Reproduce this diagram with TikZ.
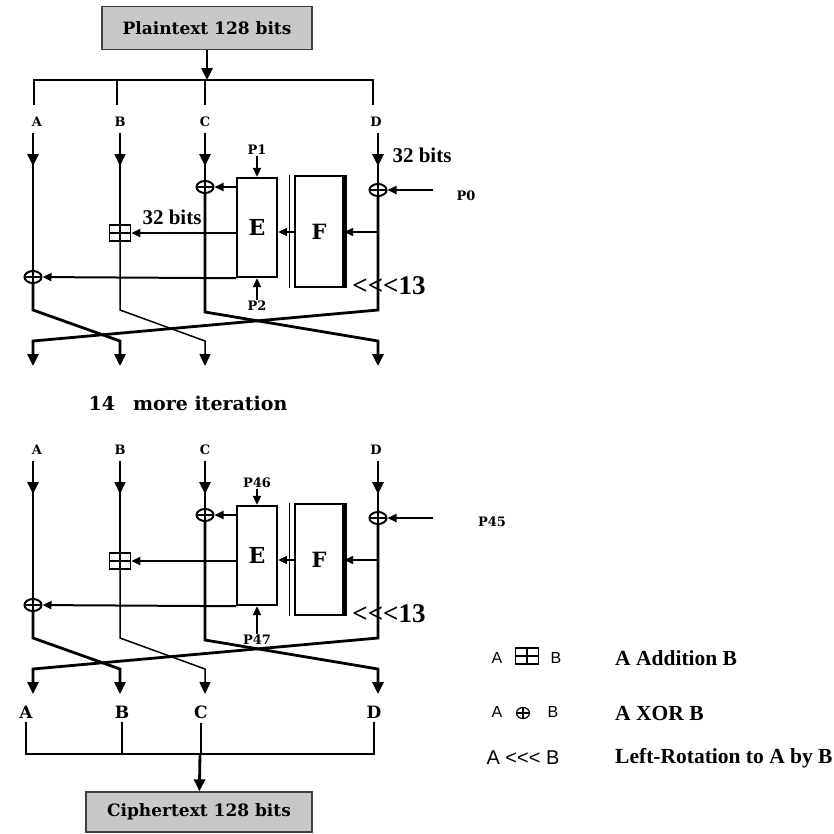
\documentclass[tikz,border=0pt]{standalone}
\usepackage{fontspec}
\setmainfont{Liberation Serif}
\setsansfont{Liberation Sans}
\newfontfamily\boxfont{DejaVu Serif}
\usepackage{xcolor}
\definecolor{BoxGray}{RGB}{200,200,200}
\usepackage{tikz}
\usetikzlibrary{arrows.meta, positioning, shapes.geometric, decorations.markings}

\tikzset{
  arrowend/.style={-{Triangle[length=12pt,width=11pt]}},
  linkend/.style={-{Triangle[length=9pt,width=8pt]}},
  midarrow/.style={postaction={decorate}, decoration={markings, mark=at position #1 with {\arrow{Triangle[length=12pt,width=11pt]}}}},
  thickwire/.style={line width=2.8pt},
  thinwire/.style={line width=1.5pt},
  link/.style={line width=2pt},
  iobox/.style={draw=black!75, line width=1.3pt, fill=BoxGray, inner sep=0pt, minimum height=43pt, font=\boxfont\bfseries\fontsize{17}{19}\selectfont},
  xorgate/.style={ellipse, draw, line width=2pt, inner sep=0pt, minimum width=17pt, minimum height=12pt,
    path picture={\draw[line width=1.6pt] (path picture bounding box.north) -- (path picture bounding box.south)
      (path picture bounding box.west) -- (path picture bounding box.east);}},
  addgate/.style={rectangle, draw, line width=1.6pt, inner sep=0pt, minimum width=21pt, minimum height=16pt, fill=white,
    path picture={\draw[line width=1.4pt] (path picture bounding box.north) -- (path picture bounding box.south)
      (path picture bounding box.west) -- (path picture bounding box.east);}},
  ebox/.style={rectangle, draw, line width=2.4pt, fill=white, inner sep=0pt, minimum width=40pt, minimum height=99pt, font=\boxfont\bfseries\fontsize{22}{24}\selectfont},
  fblock/.style={rectangle, draw, line width=2.4pt, fill=white, inner sep=0pt, minimum width=48pt, minimum height=111pt, font=\boxfont\bfseries\fontsize{21}{24}\selectfont},
  lanelbl/.style={font=\boxfont\bfseries\fontsize{13}{15}\selectfont, inner sep=1pt},
  outlbl/.style={font=\boxfont\bfseries\fontsize{17}{19}\selectfont, inner sep=1pt},
  keylbl/.style={font=\boxfont\bfseries\fontsize{13}{15}\selectfont, inner sep=1pt},
  bigtxt/.style={font=\bfseries\fontsize{21}{24}\selectfont, inner sep=1pt},
  rottxt/.style={font=\bfseries\fontsize{27}{30}\selectfont, inner sep=1pt},
  legsym/.style={font=\sffamily\fontsize{16}{18}\selectfont, inner sep=1pt},
  legtxt/.style={font=\bfseries\fontsize{21.5}{24}\selectfont, anchor=west, inner sep=0pt},
}

\begin{document}
\begin{tikzpicture}[x=1pt, y=-1pt]
\useasboundingbox (0,0) rectangle (834,833);

% 1. PLAINTEXT AND THE SPLIT BUS
\node[iobox, minimum width=210pt] (plain) at (207,28) {Plaintext 128 bits};
\coordinate (jt) at (207,80);
\coordinate (tA) at (34,105);
\coordinate (tB) at (117,105);
\coordinate (tC) at (205,105);
\coordinate (tD) at (373,105);
\draw[thickwire, arrowend] (plain) -- (jt);
\draw[thickwire] (tA) |- (jt) -| (tD);
\draw[thickwire] (tB) -- (tB |- jt);
\draw[thickwire] (tC) -- (tC |- jt);

% 2. THE ROUNDS (first one and the last one)
\foreach \rd/\dy/\ptx/\pty/\prt/\prx/\pry/\pbt/\pby in {1/0/P1/150/P0/466/196/P2/306, 2/328/P46/483/P45/492/522/P47/640} {
    % lane heads
    \node[lanelbl] (A\rd) at (37,122+\dy) {A};
    \node[lanelbl] (B\rd) at (120,122+\dy) {B};
    \node[lanelbl] (C\rd) at (205,122+\dy) {C};
    \node[lanelbl] (D\rd) at (376,122+\dy) {D};
    \coordinate (ta\rd) at (33,133+\dy);
    \coordinate (tb\rd) at (120,133+\dy);
    \coordinate (tc\rd) at (205,133+\dy);
    \coordinate (td\rd) at (378,133+\dy);

    % gates and blocks
    \node[xorgate] (xa\rd) at (33,277+\dy) {};
    \node[addgate] (ab\rd) at (120,233+\dy) {};
    \node[xorgate] (xc\rd) at (205,187+\dy) {};
    \node[xorgate] (xd\rd) at (378,190+\dy) {};
    \node[ebox] (E\rd) at (257,227.5+\dy) {E};
    \node[fblock] (F\rd) at (319,231.5+\dy) {F};
    \draw[line width=5pt] (F\rd.north east) -- (F\rd.south east);
    \draw[line width=0.8pt] ([xshift=-4pt]F\rd.north west) -- ([xshift=-4pt]F\rd.south west);

    % lanes down to the gates
    \draw[thickwire, midarrow=33pt] (ta\rd) -- (xa\rd);
    \draw[thinwire, midarrow=33pt] (tb\rd) -- (ab\rd);
    \draw[thickwire, midarrow=33pt] (tc\rd) -- (xc\rd);
    \draw[thickwire, midarrow=33pt] (td\rd) -- (xd\rd);

    % subkeys
    \node[keylbl] (pt\rd) at (257,\pty) {\ptx};
    \node[keylbl] (pr\rd) at (\prx,\pry) {\prt};
    \node[keylbl] (pb\rd) at (257,\pby) {\pbt};
    \coordinate (pin\rd) at (433,190+\dy);
    \draw[link, linkend] (pt\rd) -- (E\rd);
    \draw[link, linkend] (pb\rd) -- (E\rd);
    \draw[link, linkend] (pin\rd) -- (xd\rd);

    % data path through F and E
    \coordinate (dt\rd) at (378,232+\dy);
    \draw[link, linkend] (dt\rd) -- (F\rd.east |- dt\rd);
    \draw[link, linkend] (F\rd.west |- dt\rd) -- (E\rd.east |- dt\rd);
    \draw[link, linkend] (E\rd.west |- ab\rd) -- (ab\rd);
    \draw[link, linkend] (E\rd.west |- xc\rd) -- (xc\rd);
    \draw[link, linkend] (E\rd.south west) -- (xa\rd);
    \node[rottxt] (rot\rd) at (389,286+\dy) {{<}{<}{<}13};

    % word swap
    \draw[thickwire, arrowend] (xa\rd) -- (33,310+\dy) -- (120,341+\dy) -- (120,366+\dy);
    \draw[thinwire, arrowend] (ab\rd) -- (120,310+\dy) -- (205,341+\dy) -- (205,366+\dy);
    \draw[thickwire, arrowend] (xc\rd) -- (205,312+\dy) -- (378,341+\dy) -- (378,366+\dy);
    \draw[thickwire, arrowend] (xd\rd) -- (378,310+\dy) -- (33,341+\dy) -- (33,366+\dy);
}
\node[bigtxt] (w1) at (422,155) {32 bits};
\node[bigtxt] (w2) at (172,217) {32 bits};

% 3. SKIPPED ROUNDS
\node[font=\boxfont\bfseries\fontsize{19}{22}\selectfont] (iter) at (188,403) {14\hspace{18pt}more iteration};

% 4. OUTPUT BUS AND CIPHERTEXT
\node[outlbl] (fA) at (26,712) {A};
\node[outlbl] (fB) at (122,712) {B};
\node[outlbl] (fC) at (201,712) {C};
\node[outlbl] (fD) at (374,712) {D};
\coordinate (jb) at (200,754);
\node[iobox, minimum width=226pt, minimum height=40pt] (cipher) at (199,812) {Ciphertext 128 bits};
\draw[thickwire, shorten <=3pt, shorten >=3pt] (fA) |- (jb) -| (fD);
\draw[thickwire, shorten <=3pt] (fB) -- (fB |- jb);
\draw[thickwire, shorten <=3pt] (fC) -- (fC |- jb);
\draw[thickwire, arrowend] (jb) -- (cipher);

% 5. LEGEND
\node[legsym] (k1a) at (497,658) {A};
\node[addgate, minimum width=23pt, minimum height=16pt] (k1op) at (527,656) {};
\node[legsym] (k1b) at (556,658) {B};
\node[legtxt] (k1t) at (615,658) {A Addition B};
\node[legsym] (k2a) at (497,712) {A};
\node[xorgate, minimum width=13pt, minimum height=11pt, line width=1.2pt] (k2op) at (523,713) {};
\node[legsym] (k2b) at (553,712) {B};
\node[legtxt] (k2t) at (615,713) {A XOR B};
\node[legsym, font=\sffamily\fontsize{20}{22}\selectfont] (k3s) at (523,758) {A {<}{<}{<} B};
\node[legtxt] (k3t) at (615,758) {Left-Rotation to A by B};

\end{tikzpicture}
\end{document}
